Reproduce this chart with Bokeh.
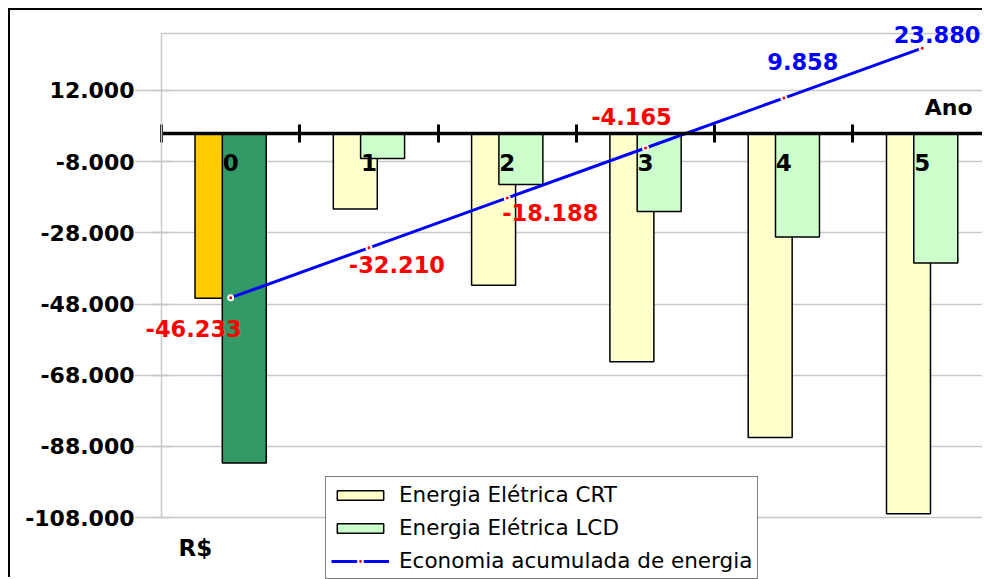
from bokeh.plotting import figure
from bokeh.models import (ColumnDataSource, FixedTicker, Legend, LegendItem, Label,
                          LabelSet, LinearAxis, Range1d)
from bokeh.embed import file_html
from bokeh.resources import INLINE
from bokeh.transform import dodge
from bokeh.core.properties import value

# ---------------- data ----------------
years = [0, 1, 2, 3, 4, 5]
year_labels = ["0", "1", "2", "3", "4", "5"]
crt = [-46400, -21300, -42700, -64200, -85500, -106900]
lcd = [-92700, -7100, -14400, -22000, -29200, -36500]
economia = [-46233, -32210, -18188, -4165, 9858, 23880]
economia_labels = ["-46.233", "-32.210", "-18.188", "-4.165", "9.858", "23.880"]
y_ticks = [-108000, -88000, -68000, -48000, -28000, -8000, 12000]
y_tick_labels = ["-108.000", "-88.000", "-68.000", "-48.000", "-28.000", "-8.000", "12.000"]
series_names = ["Energia Elétrica CRT", "Energia Elétrica LCD", "Economia acumulada de energia"]
axis_min, axis_max = -108000, 28000

# ---------------- styles ----------------
FONT = "DejaVu Sans"
crt_colors = ["#FFCC00"] + ["#FFFFCC"] * 5
lcd_colors = ["#339966"] + ["#CCFFCC"] * 5
label_colors = ["#FF0000" if v < 0 else "#0000FF" for v in economia]
label_dx = [-37, 28, 43, -14, 19, 15]
label_dy = [-31, -17, -15, 31, 37, 14]
GRID = "#c8c8c8"
X_START = -0.5  # left edge of the plot area (category axis start)

p = figure(width=974, height=569,
           x_range=Range1d(-0.6952, 5.451), y_range=Range1d(-125400, 31930),
           output_backend="svg", toolbar_location=None,
           x_axis_location=None, y_axis_location=None,
           min_border_left=124, min_border_right=0,
           min_border_top=9, min_border_bottom=0)
p.styles = {"margin-left": "8px", "margin-top": "8px",
            "border-top": "2px solid black", "border-left": "2px solid black"}
p.background_fill_color = "white"
p.border_fill_color = "white"
p.outline_line_color = None

p.xgrid.visible = False
p.ygrid.ticker = FixedTicker(ticks=y_ticks)
p.ygrid.grid_line_color = GRID
p.ygrid.grid_line_width = 1.5
p.ygrid.bounds = (X_START, 6)

# plot-area top edge
top_edge = LinearAxis(ticker=FixedTicker(ticks=[]), fixed_location=axis_max,
                      bounds=(X_START, 6))
top_edge.axis_line_color = GRID
top_edge.axis_line_width = 1.5
top_edge.major_tick_line_color = None
top_edge.minor_tick_line_color = None
top_edge.major_label_text_color = None
p.add_layout(top_edge, "above")

# y axis labels (outside the plot area)
ylab = LinearAxis(ticker=FixedTicker(ticks=y_ticks),
                  major_label_overrides=dict(zip(y_ticks, y_tick_labels)))
ylab.axis_line_color = None
ylab.major_tick_line_color = None
ylab.major_tick_in = 0
ylab.major_tick_out = 0
ylab.minor_tick_line_color = None
ylab.major_label_standoff = 0
ylab.major_label_text_font = FONT
ylab.major_label_text_font_style = "bold"
ylab.major_label_text_font_size = "22px"
ylab.major_label_text_color = "black"
p.add_layout(ylab, "left")

# y axis line and tick marks (plot-area left edge)
yax = LinearAxis(ticker=FixedTicker(ticks=y_ticks), bounds=(axis_min, axis_max),
                 fixed_location=X_START)
yax.axis_line_color = GRID
yax.axis_line_width = 1.5
yax.major_tick_line_color = GRID
yax.major_tick_line_width = 1.5
yax.major_tick_in = 9
yax.major_tick_out = 9
yax.minor_tick_line_color = None
yax.major_label_text_color = None
p.add_layout(yax, "left")

# bars
src = ColumnDataSource(dict(year=years, crt=crt, lcd=lcd,
                            crt_color=crt_colors, lcd_color=lcd_colors))
r_crt = p.vbar(x=dodge("year", -0.0987), top="crt", bottom=0, width=0.318,
               fill_color="crt_color", line_color="black", line_width=1.5, source=src)
r_lcd = p.vbar(x=dodge("year", 0.0987), top="lcd", bottom=0, width=0.318,
               fill_color="lcd_color", line_color="black", line_width=1.5, source=src)

# x axis crossing at zero
xax = LinearAxis(ticker=FixedTicker(ticks=years, minor_ticks=[y - 0.5 for y in years] + [5.5]),
                 fixed_location=0, bounds=(X_START, 6),
                 major_label_overrides=dict(zip(years, year_labels)))
xax.axis_line_color = "black"
xax.axis_line_width = 3.5
xax.major_tick_line_color = None
xax.major_tick_in = 0
xax.major_tick_out = 0
xax.minor_tick_line_color = "black"
xax.minor_tick_line_width = 3
xax.minor_tick_in = 9
xax.minor_tick_out = 9
xax.major_label_standoff = 12
xax.major_label_text_font = FONT
xax.major_label_text_font_style = "bold"
xax.major_label_text_font_size = "23px"
xax.major_label_text_color = "black"
p.add_layout(xax, "below")

# line
lsrc = ColumnDataSource(dict(year=years, econ=economia, text=economia_labels,
                             color=label_colors, dx=label_dx, dy=label_dy))
r_line = p.line("year", "econ", line_color="#0000FF", line_width=3, source=lsrc)
r_pts = p.scatter("year", "econ", size=5, fill_color="#FF0000", line_color="white",
                  line_width=2, source=lsrc)

labels = LabelSet(x="year", y="econ", text="text", x_offset="dx", y_offset="dy",
                  text_color="color", text_font=value(FONT), text_font_style="bold",
                  text_font_size="22.5px", text_align="center", text_baseline="middle",
                  source=lsrc)
p.add_layout(labels)

ano = Label(x=838, y=472, x_units="screen", y_units="screen", text="Ano",
            text_font=FONT, text_font_style="bold", text_font_size="22px",
            text_align="right", text_baseline="middle", text_color="black")
rs = Label(x=44, y=32, x_units="screen", y_units="screen", text="R$",
           text_font=FONT, text_font_style="bold", text_font_size="23px",
           text_align="left", text_baseline="middle", text_color="black")
p.add_layout(ano)
p.add_layout(rs)

legend = Legend(items=[
    LegendItem(label=series_names[0], renderers=[r_crt], index=1),
    LegendItem(label=series_names[1], renderers=[r_lcd], index=1),
    LegendItem(label=series_names[2], renderers=[r_line, r_pts]),
], location=(191, 0))
legend.background_fill_color = "white"
legend.background_fill_alpha = 1
legend.border_line_color = "black"
legend.border_line_width = 1
legend.label_text_font = FONT
legend.label_text_font_size = "21.5px"
legend.label_text_color = "black"
legend.glyph_width = 58
legend.glyph_height = 12
legend.label_standoff = 10
legend.padding = 5
legend.spacing = 8
legend.margin = 0
p.add_layout(legend)

open("out.html", "w").write(file_html(p, INLINE))
